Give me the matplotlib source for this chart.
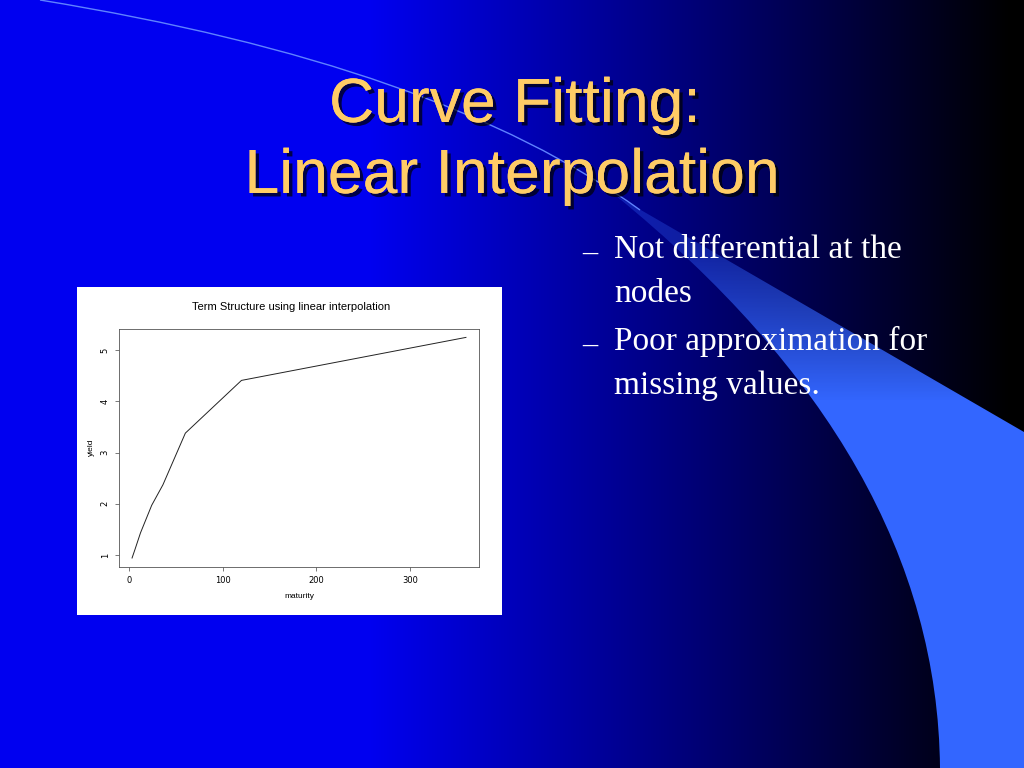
import numpy as np
import matplotlib
matplotlib.use('Agg')
import matplotlib.pyplot as plt
import matplotlib.patheffects as pe
from matplotlib.path import Path
from matplotlib.patches import PathPatch, Rectangle

# Data: yield curve nodes
maturity = [3, 6, 12, 24, 36, 60, 120, 360]
yield_pct = [0.94, 1.10, 1.43, 1.97, 2.37, 3.38, 4.41, 5.25]

x_ticks = [0, 100, 200, 300]
y_ticks = [1, 2, 3, 4, 5]

title_lines = ["Curve Fitting:", "Linear Interpolation"]
bullets = [["Not differential at the", "nodes"],
           ["Poor approximation for", "missing values."]]

W, H = 1024, 768
fig = plt.figure(figsize=(W / 100, H / 100), dpi=100)

# Slide background (pixel coordinates, y down)
bg = fig.add_axes([0, 0, 1, 1])
bg.set_xlim(0, W)
bg.set_ylim(H, 0)
bg.axis('off')

xs = np.arange(W)
blue = np.clip(240 * (1 - (xs - 370) / (1010 - 370)), 0, 240)
grad = np.zeros((H, W, 3))
grad[:, :, 2] = blue[None, :] / 255.0
bg.imshow(grad, extent=[0, W, H, 0], aspect='auto', zorder=0)

# light blue swoosh
verts = [(615, 195), (1024, 432), (1024, 768), (940, 768),
         (938, 560), (830, 370), (615, 195)]
codes = [Path.MOVETO, Path.LINETO, Path.LINETO, Path.LINETO,
         Path.CURVE4, Path.CURVE4, Path.CURVE4]
band = PathPatch(Path(verts, codes), facecolor='none', edgecolor='none')
bg.add_patch(band)
ys = np.arange(H)
alpha = np.clip((ys - 170) / 230.0, 0.3, 1.0)
band_img = np.zeros((H, W, 4))
band_img[:, :, 0] = 0x33 / 255
band_img[:, :, 1] = 0x66 / 255
band_img[:, :, 2] = 1.0
band_img[:, :, 3] = alpha[:, None]
im = bg.imshow(band_img, extent=[0, W, H, 0], aspect='auto', zorder=1)
im.set_clip_path(band)

arc = Path([(40, 0), (440, 65), (640, 210)], [Path.MOVETO, Path.CURVE3, Path.CURVE3])
bg.add_patch(PathPatch(arc, facecolor='none', edgecolor='#5f82ff', lw=1.0, zorder=2))

# Title
shadow = [pe.withSimplePatchShadow(offset=(2.5, -2.5), shadow_rgbFace='black', alpha=0.7), pe.Normal()]
bg.text(515, 122, title_lines[0], ha='center', va='baseline', fontsize=45,
        family='Liberation Sans', color='#FFCC66', path_effects=shadow, zorder=5)
bg.text(512, 193, title_lines[1], ha='center', va='baseline', fontsize=45,
        family='Liberation Sans', color='#FFCC66', path_effects=shadow, zorder=5)

# Bullets
y0 = 258
for item in bullets:
    bg.text(582, y0 + 3, "\u2013", ha='left', va='baseline', fontsize=22,
            family='Liberation Serif', color='white', zorder=5)
    for line in item:
        bg.text(614, y0, line, ha='left', va='baseline', fontsize=24,
                family='Liberation Serif', color='white', zorder=5)
        y0 += 44
    y0 += 4

# White panel holding the R plot
bg.add_patch(Rectangle((77, 287), 425, 328, facecolor='white', edgecolor='none', zorder=3))

ax = fig.add_axes([118.7 / W, 1 - 566.7 / H, 360.6 / W, 238 / H])
ax.set_facecolor('white')
ax.plot(maturity, yield_pct, color='#222222', lw=0.7)
ax.set_xlim(-11.28, 374.28)
ax.set_ylim(0.77, 5.42)
ax.set_xticks(x_ticks)
ax.set_yticks(y_ticks)
ax.tick_params(labelsize=6, length=3, width=0.5, direction='out', color='#444444')
for lab in ax.get_yticklabels():
    lab.set_rotation(90)
    lab.set_va('center')
for s in ax.spines.values():
    s.set_linewidth(0.6)
    s.set_color('#555555')
ax.set_xlabel("maturity", fontsize=6, labelpad=6, family='Liberation Sans')
ax.set_ylabel("yield", fontsize=6, labelpad=4, family='Liberation Sans')

fig.text(291 / W, 1 - 307 / H, "Term Structure using linear interpolation", ha='center',
         va='center', fontsize=8, family='Liberation Sans', color='black')

fig.savefig('out.png', dpi=100)
